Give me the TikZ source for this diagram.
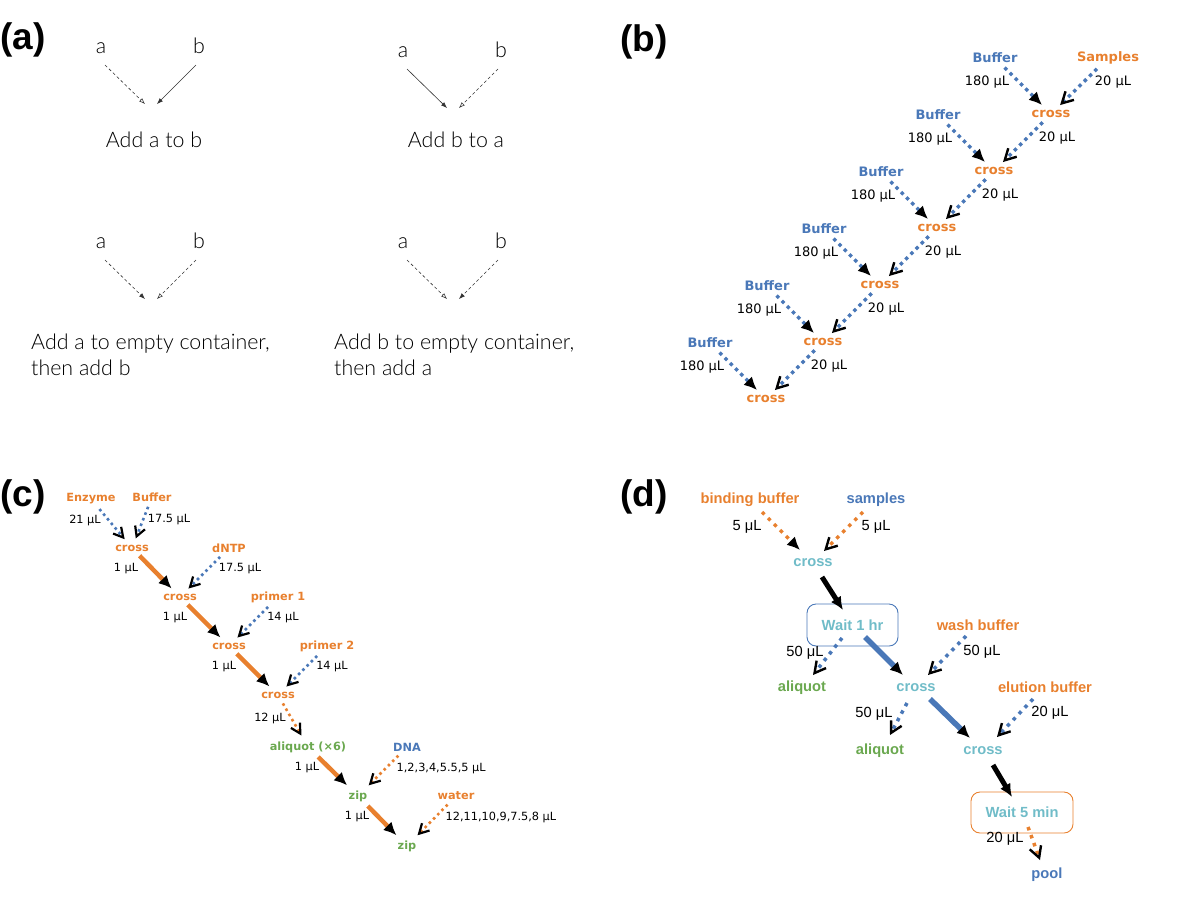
\documentclass[tikz,border=0pt]{standalone}
\usepackage{fontspec}
\usetikzlibrary{arrows.meta}
\newfontfamily\djv{DejaVu Sans}
\newfontfamily\ars{Liberation Sans}
\newfontfamily\gil{Lato Light}
\definecolor{orng}{RGB}{232,128,46}
\definecolor{blu}{RGB}{74,120,184}
\definecolor{grn}{RGB}{106,168,79}
\definecolor{cyn}{RGB}{112,188,200}

\begin{document}
\begin{tikzpicture}[x=1pt,y=-1pt,
  every node/.style={inner sep=1.5pt},
  lab/.style={font=\ars\bfseries\fontsize{37}{40}\selectfont},
  ta/.style={font=\gil\fontsize{21.4}{26}\selectfont},
  tb/.style={font=\djv\bfseries\fontsize{13}{15}\selectfont},
  vb/.style={font=\djv\fontsize{13}{15}\selectfont},
  tc/.style={font=\djv\bfseries\fontsize{11.3}{13}\selectfont},
  vc/.style={font=\djv\fontsize{11.3}{13}\selectfont},
  td/.style={font=\ars\bfseries\fontsize{14.7}{17}\selectfont},
  vd/.style={font=\ars\fontsize{14.7}{17}\selectfont},
  % panel (a) arrows
  sa/.style={draw=black!80, line width=0.6pt},
  da/.style={sa, dash pattern=on 3pt off 2.5pt},
  fa/.style={-{Latex[length=6pt,width=4.5pt]}},
  oa/.style={-{Latex[open,length=6pt,width=4.5pt]}},
  % transfers
  dotb/.style={draw=blu, line width=3.4pt, dash pattern=on 3.4pt off 4pt},
  doto/.style={dotb, draw=orng},
  dotc/.style={dotb, line width=2.6pt, dash pattern=on 2.6pt off 3.4pt},
  dotco/.style={dotc, draw=orng},
  dotdb/.style={draw=blu, line width=3.5pt, dash pattern=on 3.5pt off 5pt},
  dotdo/.style={dotdb, draw=orng},
  tr/.style={shorten <=4pt, shorten >=5pt},
  fh/.style={-{Latex[color=black,length=13pt,width=12pt]}},
  vh/.style={-{Straight Barb[color=black,length=11pt,width=12pt,line width=2.4pt]}},
  vhc/.style={-{Straight Barb[color=black,length=9.5pt,width=10.5pt,line width=2.2pt]}},
  wbox/.style={draw, rounded corners=9pt, line width=0.9pt},
]
\useasboundingbox (0,0) rectangle (1200,903);

% (a) order of addition
\node[lab] (la) at (23,40) {(a)};
\foreach \ox/\oy/\ka/\kb/\ha/\hb [count=\k] in
  {0/0/da/sa/oa/fa, 302/4/sa/da/fa/oa, 0/195/da/da/fa/oa, 302/195/da/da/oa/fa}{
  \node[ta,anchor=base] (a\k) at (101+\ox,53+\oy) {a};
  \node[ta,anchor=base] (b\k) at (199+\ox,53+\oy) {b};
  \coordinate (m\k) at (151+\ox,104+\oy);
  \draw[\ka,\ha] ([shift={(4,12)}]a\k.base) -- ([shift={(-6,0)}]m\k);
  \draw[\kb,\hb] ([shift={(-3,12)}]b\k.base) -- ([shift={(6,0)}]m\k);
}
\node[ta,anchor=base] (t1) at (154,147) {Add a to b};
\node[ta,anchor=base] (t2) at (456,147) {Add b to a};
\node[ta,anchor=north west,align=left] (t3) at (29.5,332.5) {Add a to empty container,\\then add b};
\node[ta,anchor=north west,align=left] (t4) at (332.5,332.5) {Add b to empty container,\\then add a};

% (b) serial dilution
\node[lab] (lb) at (644,42) {(b)};
\node[tb,text=orng] (smp) at (1108,58) {Samples};
\foreach \i in {0,...,5}{
  \node[tb,text=orng] (cb\i) at (1051-57*\i,114+57*\i) {cross};
  \node[tb,text=blu] (bb\i) at (995-57*\i,58+57*\i) {Buffer};
  \node[vb] (vb\i) at (987-57*\i,82+57*\i) {180 μL};
  \draw[dotb,fh,tr] (bb\i) -- (cb\i);
}
\node[vb] (vs) at (1113,82) {20 μL};
\draw[dotb,vh,tr] (smp) -- (cb0);
\foreach \i [count=\j] in {0,...,4}{
  \node[vb] (vx\i) at (1057-57*\i,138+57*\i) {20 μL};
  \draw[dotb,vh,tr] (cb\i) -- (cb\j);
}

% (c) master mix
\node[lab] (lc) at (23,497) {(c)};
\node[tc,text=orng] (enz) at (91,499) {Enzyme};
\node[tc,text=orng] (bufc) at (152,497) {Buffer};
\node[tc,text=orng] (cc1) at (132,548) {cross};
\node[tc,text=orng] (dntp) at (229,548) {dNTP};
\node[tc,text=orng] (cc2) at (180,597) {cross};
\node[tc,text=orng] (pr1) at (278,597) {primer 1};
\node[tc,text=orng] (cc3) at (229,646) {cross};
\node[tc,text=orng] (pr2) at (327,646) {primer 2};
\node[tc,text=orng] (cc4) at (278,695) {cross};
\node[tc,text=grn] (aqc) at (308,747) {aliquot (×6)};
\node[tc,text=blu] (dna) at (407,747) {DNA};
\node[tc,text=grn] (zip1) at (358,796) {zip};
\node[tc,text=orng] (wat) at (456,796) {water};
\node[tc,text=grn] (zip2) at (407,846) {zip};
\node[vc] (vc1) at (85,520) {21 μL};
\node[vc] (vc2) at (169,520) {17.5 μL};
\node[vc] (vc3) at (126,569) {1 μL};
\node[vc] (vc4) at (240,569) {17.5 μL};
\node[vc] (vc5) at (175,618) {1 μL};
\node[vc] (vc6) at (283,618) {14 μL};
\node[vc] (vc7) at (224,667) {1 μL};
\node[vc] (vc8) at (332,667) {14 μL};
\node[vc] (vc9) at (270,718) {12 μL};
\node[vc] (vc10) at (307,768) {1 μL};
\node[vc,anchor=west] (vc11) at (395,768) {1,2,3,4,5.5,5 μL};
\node[vc] (vc12) at (357,817) {1 μL};
\node[vc,anchor=west] (vc13) at (444,817) {12,11,10,9,7.5,8 μL};
\draw[dotc,vhc,tr] (enz) -- (cc1);
\draw[dotc,vhc,tr] (bufc) -- (cc1);
\draw[draw=orng,line width=4.5pt,fh,tr] (cc1) -- (cc2);
\draw[dotc,vhc,tr] (dntp) -- (cc2);
\draw[draw=orng,line width=4.5pt,fh,tr] (cc2) -- (cc3);
\draw[dotc,vhc,tr] (pr1) -- (cc3);
\draw[draw=orng,line width=4.5pt,fh,tr] (cc3) -- (cc4);
\draw[dotc,vhc,tr] (pr2) -- (cc4);
\draw[dotco,vhc,tr] (cc4) -- (aqc);
\draw[draw=orng,line width=4.5pt,fh,tr] (aqc) -- (zip1);
\draw[dotco,vhc,tr] (dna) -- (zip1);
\draw[draw=orng,line width=4.5pt,fh,tr] (zip1) -- (zip2);
\draw[dotco,vhc,tr] (wat) -- (zip2);

% (d) bead cleanup
\node[lab] (ld) at (644,497) {(d)};
\node[td,text=orng] (bind) at (750,500) {binding buffer};
\node[td,text=blu] (smpd) at (876,500) {samples};
\node[td,text=cyn] (cd1) at (813,563) {cross};
\node[td,text=cyn,wbox,draw=blu,minimum width=91pt,minimum height=42pt] (w1) at (852.5,625) {Wait 1 hr};
\node[td,text=orng] (wash) at (978,625) {wash buffer};
\node[td,text=grn] (aq1) at (802,688) {aliquot};
\node[td,text=cyn] (cd2) at (916,688) {cross};
\node[td,text=orng] (elu) at (1045,687) {elution buffer};
\node[td,text=grn] (aq2) at (880,751) {aliquot};
\node[td,text=cyn] (cd3) at (983,751) {cross};
\node[td,text=cyn,wbox,draw=orng,minimum width=102pt,minimum height=41pt] (w5) at (1022,812.5) {Wait 5 min};
\node[td,text=blu] (pool) at (1047,875) {pool};
\node[vd] (vd1) at (747,527) {5 μL};
\node[vd] (vd2) at (876,527) {5 μL};
\node[vd] (vd3) at (805,653) {50 μL};
\node[vd] (vd4) at (982,652) {50 μL};
\node[vd] (vd5) at (874,714) {50 μL};
\node[vd] (vd6) at (1050,713) {20 μL};
\node[vd] (vd7) at (1005,839) {20 μL};
\draw[dotdo,fh] ([shift={(12,12)}]bind.center) -- ([shift={(-13,-13)}]cd1.center);
\draw[dotdo,vh] ([shift={(-13,12)}]smpd.center) -- ([shift={(11,-12)}]cd1.center);
\draw[line width=5pt,fh] ([shift={(9,14)}]cd1.center) -- ([shift={(-9.5,-15)}]w1.center);
\draw[dotdb,vh] ([shift={(-10.5,13)}]w1.center) -- ([shift={(11,-13)}]aq1.center);
\draw[draw=blu,line width=5.5pt,fh] ([shift={(12.5,12)}]w1.center) -- ([shift={(-13,-13)}]cd2.center);
\draw[dotdb,vh] ([shift={(-12,11)}]wash.center) -- ([shift={(12,-13)}]cd2.center);
\draw[dotdb,vh] ([shift={(-9,15)}]cd2.center) -- ([shift={(10,-16)}]aq2.center);
\draw[draw=blu,line width=5.5pt,fh] ([shift={(14,11)}]cd2.center) -- ([shift={(-13,-13)}]cd3.center);
\draw[dotdb,vh] ([shift={(-12,12)}]elu.center) -- ([shift={(14,-14)}]cd3.center);
\draw[line width=5pt,fh] ([shift={(10,14)}]cd3.center) -- ([shift={(-10,-15.5)}]w5.center);
\draw[dotdo,vh] ([shift={(6,14.5)}]w5.center) -- ([shift={(-7,-15)}]pool.center);
\end{tikzpicture}
\end{document}
